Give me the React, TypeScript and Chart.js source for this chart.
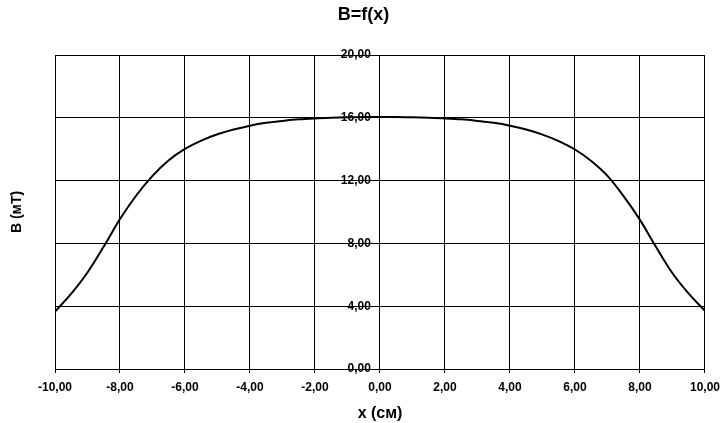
import React, { useEffect, useRef } from "react";
import { Chart, registerables } from "chart.js";

Chart.register(...registerables);

const xValues = [
  -10, -9.5, -9, -8.5, -8, -7.5, -7, -6.5, -6, -5.5, -5, -4.5, -4, -3.5, -3, -2.5, -2, -1.5, -1, -0.5,
  0, 0.5, 1, 1.5, 2, 2.5, 3, 3.5, 4, 4.5, 5, 5.5, 6, 6.5, 7, 7.5, 8, 8.5, 9, 9.5, 10,
];
const bValues = [
  3.65, 4.8, 6.15, 7.8, 9.55, 11.05, 12.3, 13.3, 14.02, 14.55, 14.95, 15.25, 15.5, 15.68, 15.8, 15.9, 15.96, 16.0, 16.03, 16.05,
  16.05, 16.05, 16.03, 16.0, 15.96, 15.9, 15.8, 15.68, 15.5, 15.25, 14.93, 14.52, 13.98, 13.25, 12.3, 11.0, 9.5, 7.75, 6.1, 4.8, 3.7,
];
const titleText = "B=f(x)";
const xTitle = "x (см)";
const yTitle = "B (мТ)";

const fmt = (v: number) => Number(v).toFixed(2).replace(".", ",");

export default function App() {
  const ref = useRef<HTMLCanvasElement>(null);
  useEffect(() => {
    document.body.style.margin = "0";
    const canvas = ref.current!;
    const font = "'Liberation Sans', Arial, sans-serif";
    const chart = new Chart(canvas, {
      type: "scatter",
      data: {
        datasets: [
          {
            data: xValues.map((x, i) => ({ x, y: bValues[i] })),
            showLine: true,
            borderColor: "#000",
            borderWidth: 2,
            pointRadius: 0,
            cubicInterpolationMode: "monotone",
            yAxisID: "y",
          },
        ],
      },
      options: {
        animation: false,
        responsive: false,
        devicePixelRatio: 1,
        layout: { padding: { left: 4, right: 4, top: 0, bottom: 0 } },
        plugins: {
          legend: { display: false },
          tooltip: { enabled: false },
          title: {
            display: true,
            text: titleText,
            color: "#000",
            font: { family: font, size: 18, weight: "bold" },
            padding: { top: 4, bottom: 29.4 },
          },
        },
        scales: {
          x: {
            type: "linear",
            min: -10,
            max: 10,
            ticks: {
              stepSize: 2,
              color: "#000",
              font: { family: font, size: 12, weight: "bold" },
              padding: 7,
              maxRotation: 0,
              callback: (v: any) => fmt(v),
            },
            grid: { color: "#000", lineWidth: 1, drawTicks: true, tickLength: 4 },
            border: { color: "#000", width: 1 },
            title: {
              display: true,
              text: xTitle,
              color: "#000",
              font: { family: font, size: 16, weight: "bold" },
              padding: { top: 0, bottom: 0 },
            },
            afterFit: (s: any) => {
              s.height = 54;
            },
          },
          y: {
            type: "linear",
            axis: "y",
            position: { x: -0.28 },
            min: 0,
            max: 20,
            ticks: {
              stepSize: 4,
              color: "#000",
              font: { family: font, size: 12, weight: "bold" },
              callback: (v: any) => fmt(v),
            },
            grid: { color: "#000", lineWidth: 1, drawTicks: false },
            border: { display: false },
          },
          yl: {
            type: "linear",
            axis: "y",
            position: "left",
            min: 0,
            max: 20,
            ticks: { display: false },
            grid: { display: false, drawTicks: false },
            border: { display: false },
            title: {
              display: true,
              text: yTitle,
              color: "#000",
              font: { family: font, size: 14, weight: "bold" },
              padding: { top: 5, bottom: 0 },
            },
            afterFit: (s: any) => {
              s.width = 51;
            },
          },
          yr: {
            type: "linear",
            axis: "y",
            position: "right",
            min: 0,
            max: 20,
            ticks: { display: false },
            grid: { display: false, drawTicks: false },
            border: { display: false },
            afterFit: (s: any) => {
              s.width = 17;
            },
          },
        },
      } as any,
    });
    return () => chart.destroy();
  }, []);
  return (
    <div style={{ width: 727, height: 423, background: "#fff" }}>
      <canvas ref={ref} width={727} height={423} style={{ display: "block" }} />
    </div>
  );
}
